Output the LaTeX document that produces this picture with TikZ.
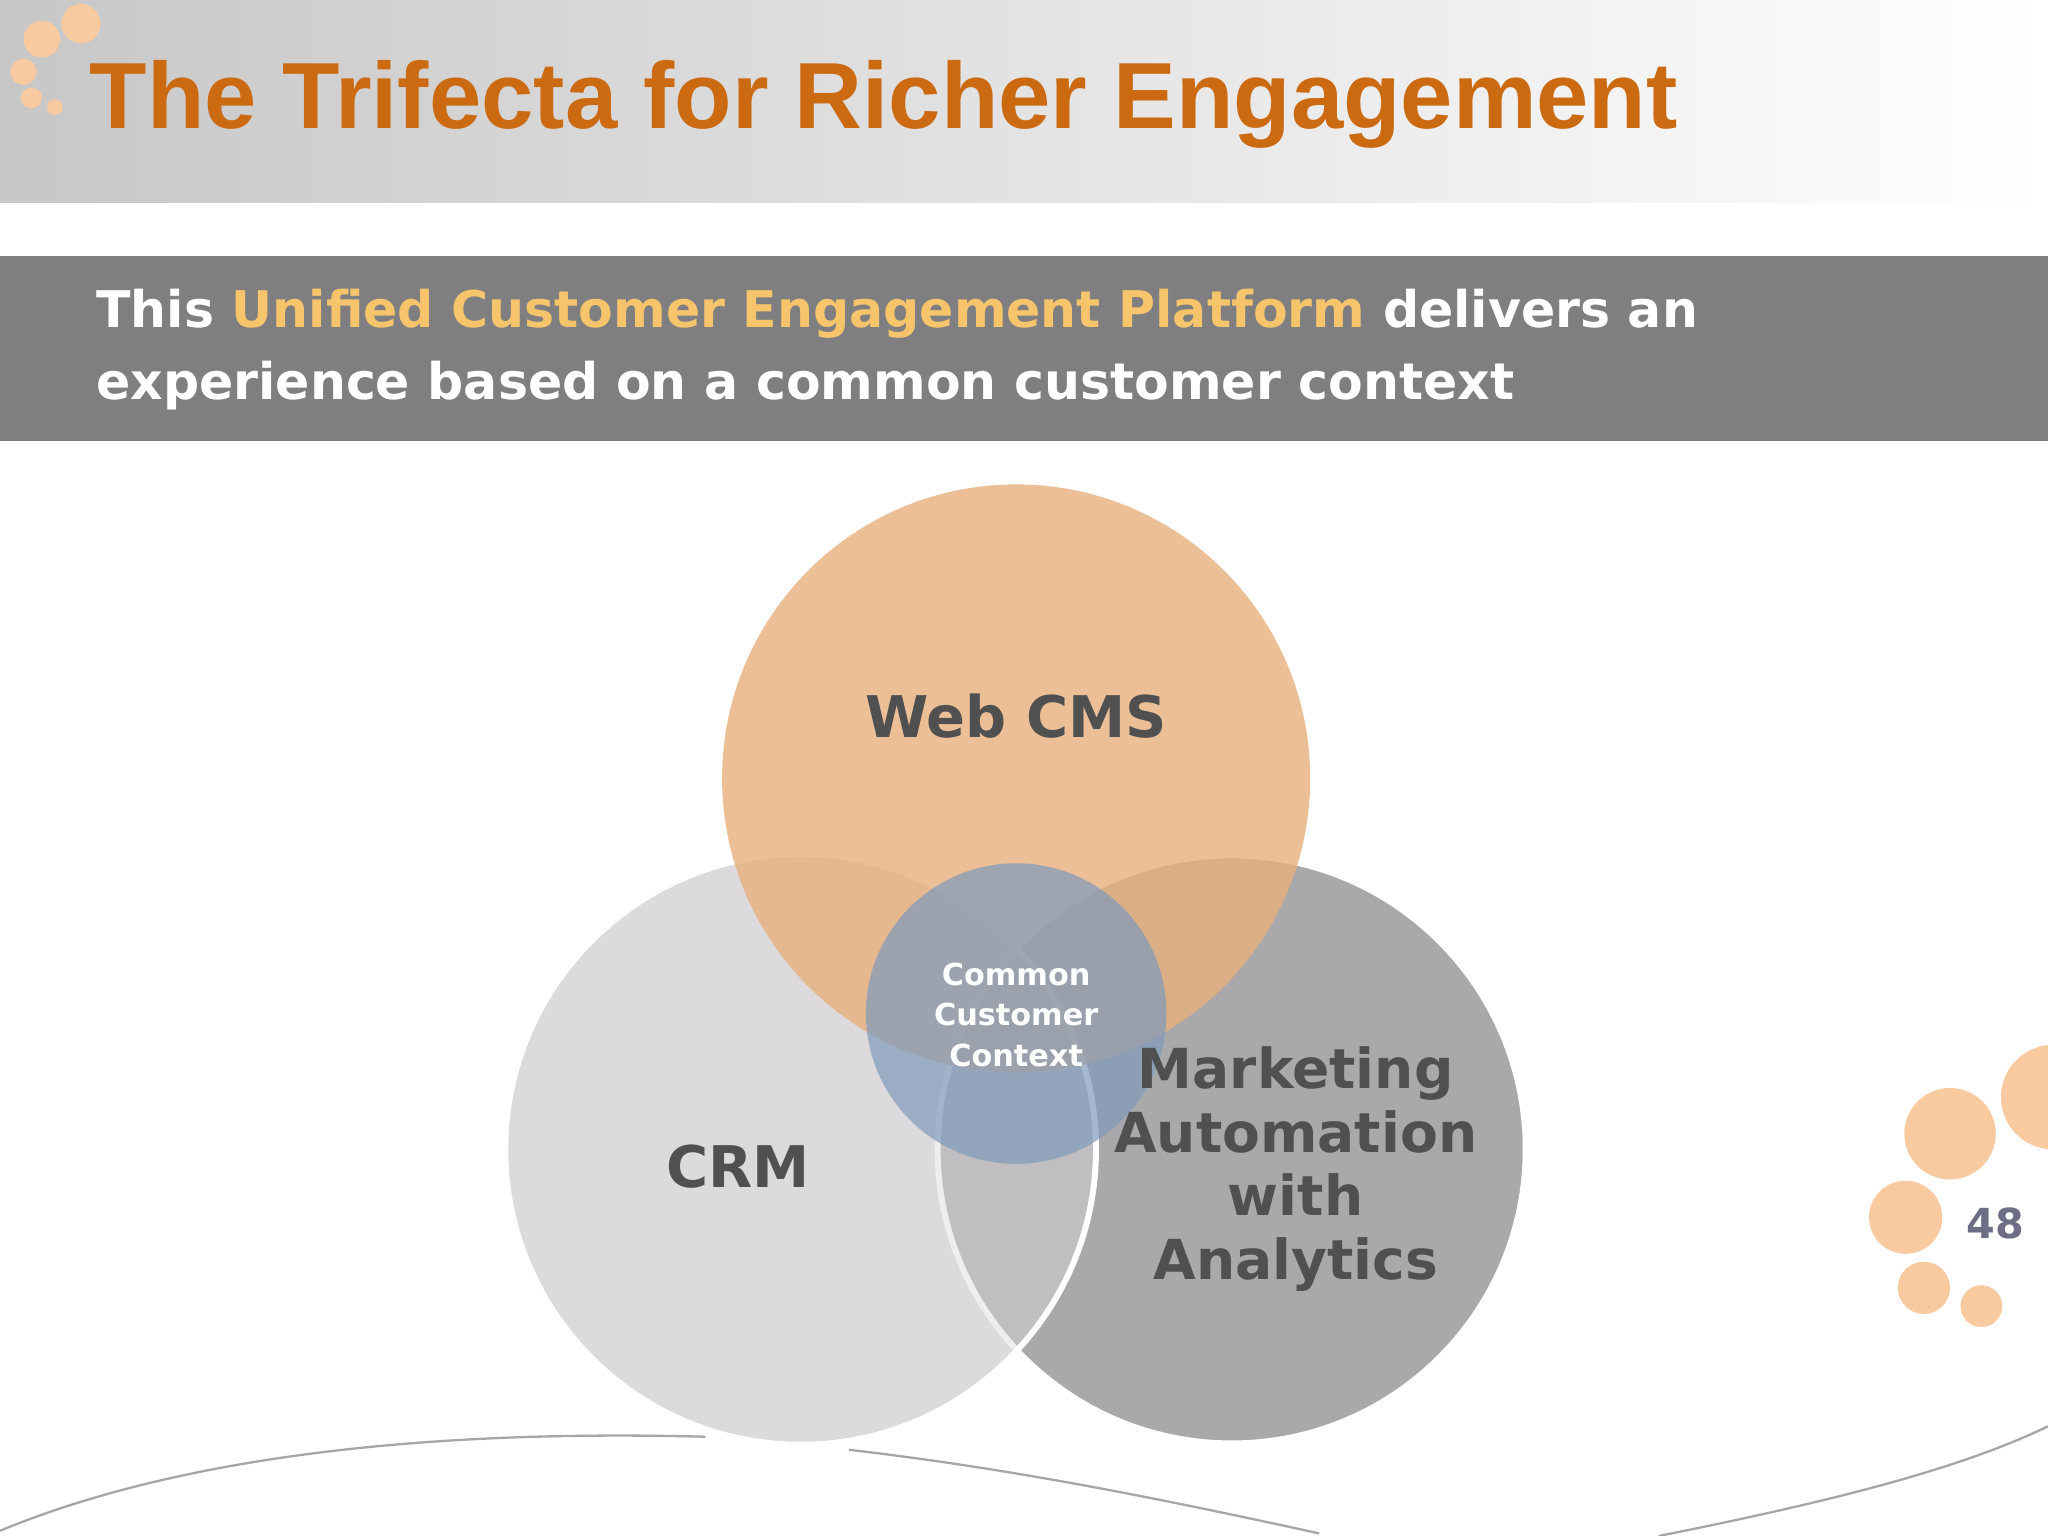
\documentclass[tikz,border=0pt]{standalone}
\usepackage{fontspec}
\setmainfont{DejaVu Sans}
\newfontfamily\titlefont{Liberation Sans}
\usetikzlibrary{fadings}
\definecolor{ttl}{HTML}{CC6A12}
\definecolor{band}{HTML}{7F7E80}
\definecolor{hl}{HTML}{F6C46A}
\definecolor{webc}{HTML}{E8B07E}
\definecolor{crmc}{HTML}{DCDADC}
\definecolor{mktc}{HTML}{A9A8AA}
\definecolor{ctr}{HTML}{7F9BBB}
\definecolor{lbl}{HTML}{505050}
\definecolor{dot}{HTML}{F9C9A0}
\definecolor{pg}{HTML}{6D6E86}
\tikzset{lab/.style={font=\bfseries\fontsize{12.5}{14}\selectfont, text=lbl, align=center},
  venn/.style={draw=white, line width=1.3pt}}
\begin{document}
\begin{tikzpicture}[x=0.01cm,y=-0.01cm]
\useasboundingbox (0,0) rectangle (1568,1176);
\fill[white] (0,0) rectangle (1568,1176);
\shade[left color=black!22, right color=white] (0,0) rectangle (1568,155);
% top-left dots
\foreach \x/\y/\r in {62/18/15,32/30/14,18/55/10,24/75/8,42/82/6}
  \fill[dot] (\x,\y) circle[radius=\r*0.01cm];
\node[anchor=west, inner sep=0] (title) at (68,80) {\resizebox{12.15cm}{!}{\titlefont\bfseries\color{ttl}The Trifecta for Richer Engagement}};
\fill[band] (0,196) rectangle (1568,338);
\node[anchor=west, inner sep=0, text=white, font=\bfseries\fontsize{11}{13}\selectfont] (l1) at (73,240) {This \textcolor{hl}{Unified Customer Engagement Platform} delivers an};
\node[anchor=west, inner sep=0, text=white, font=\bfseries\fontsize{11}{13}\selectfont] (l2) at (73,295) {experience based on a common customer context};
% circles
\fill[crmc] (613,880) circle[radius=2.26cm];
\draw[venn, fill=mktc] (943,880) circle[radius=2.25cm];
\fill[crmc, opacity=0.45] (613,880) circle[radius=2.26cm];
\draw[venn] (613,880) circle[radius=2.26cm];
\fill[webc, opacity=0.8] (778,596) circle[radius=2.25cm];
\fill[ctr, opacity=0.7] (778,776) circle[radius=1.15cm];
\node[lab] (web) at (778,548) {Web CMS};
\node[lab] (crm) at (565,893) {CRM};
\node[lab, font=\bfseries\fontsize{12}{13.9}\selectfont] (mkt) at (992,895) {Marketing\\Automation\\with\\Analytics};
\node[text=white, align=center, font=\bfseries\fontsize{6.6}{8.9}\selectfont] (ctx) at (778,777) {Common\\Customer\\Context};
% right dots
\foreach \x/\y/\r in {1493/868/35,1572/840/40,1459/932/28,1473/986/20,1517/1000/16}
  \fill[dot] (\x,\y) circle[radius=\r*0.01cm];
\node[text=pg, font=\bfseries\fontsize{9}{10}\selectfont] (pn) at (1528,937) {48};
% bottom curves
\draw[black!35, line width=0.5pt] (0,1172) .. controls (150,1110) and (350,1095) .. (540,1100);
\draw[black!35, line width=0.5pt] (650,1110) .. controls (780,1125) and (900,1150) .. (1010,1174);
\draw[black!35, line width=0.5pt] (1270,1176) .. controls (1400,1150) and (1500,1125) .. (1568,1092);
\end{tikzpicture}
\end{document}
